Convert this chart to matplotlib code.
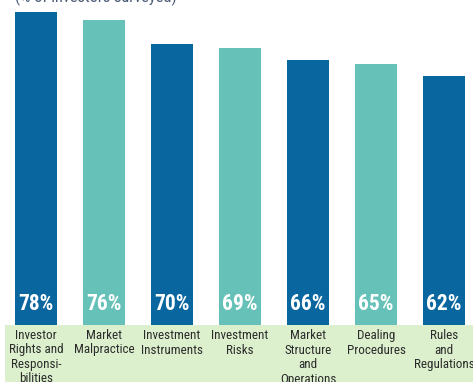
import matplotlib
matplotlib.use("Agg")
import matplotlib.pyplot as plt
from matplotlib.patches import Rectangle

categories = ["Investor\nRights and\nResponsi-\nbilities", "Market\nMalpractice",
              "Investment\nInstruments", "Investment\nRisks",
              "Market\nStructure\nand\nOperations", "Dealing\nProcedures",
              "Rules\nand\nRegulations"]
values = [78, 76, 70, 69, 66, 65, 62]
colors = ["#09669f", "#66c1b8", "#09669f", "#66c1b8", "#09669f", "#66c1b8", "#09669f"]

W, H = 473, 382
fig = plt.figure(figsize=(W / 100, H / 100), dpi=100)
fig.patch.set_facecolor("white")

base = 325
bottom_frac = (H - base) / H
band = Rectangle((5 / W, 0), 1 - 5 / W, bottom_frac, transform=fig.transFigure,
                 facecolor="#dcf0cd", edgecolor="none", zorder=0)
fig.patches.append(band)

ax = fig.add_axes([0, bottom_frac, 1, 1 - bottom_frac])
ax.set_facecolor("none")
ppu = 4.01
ax.set_ylim(0, base / ppu)
ax.set_xlim(-36 / 68, (W - 36) / 68)
ax.axis("off")

x = list(range(len(values)))
ax.bar(x, values, width=42 / 68, color=colors, zorder=2)

font = ["Roboto Condensed", "Archivo Narrow", "DejaVu Sans"]
for xi, v in zip(x, values):
    ax.text(xi, 21 / ppu, f"{v}%", ha="center", va="center", color="white",
            fontsize=15.5, fontweight="bold", family=font, zorder=3)

for xi, c in zip(x, categories):
    xf = (36 + 68 * xi) / W
    fig.text(xf, 1 - 329 / H, c, ha="center", va="top", fontsize=9.4,
             family=font, color="#2b2b2b", linespacing=1.15)

fig.text(15 / W, 1 - 2 / H, "(% of investors surveyed)", ha="left", va="baseline",
         fontsize=11.8, family=font, color="#4a5a78")

fig.savefig("out.png", dpi=100)
